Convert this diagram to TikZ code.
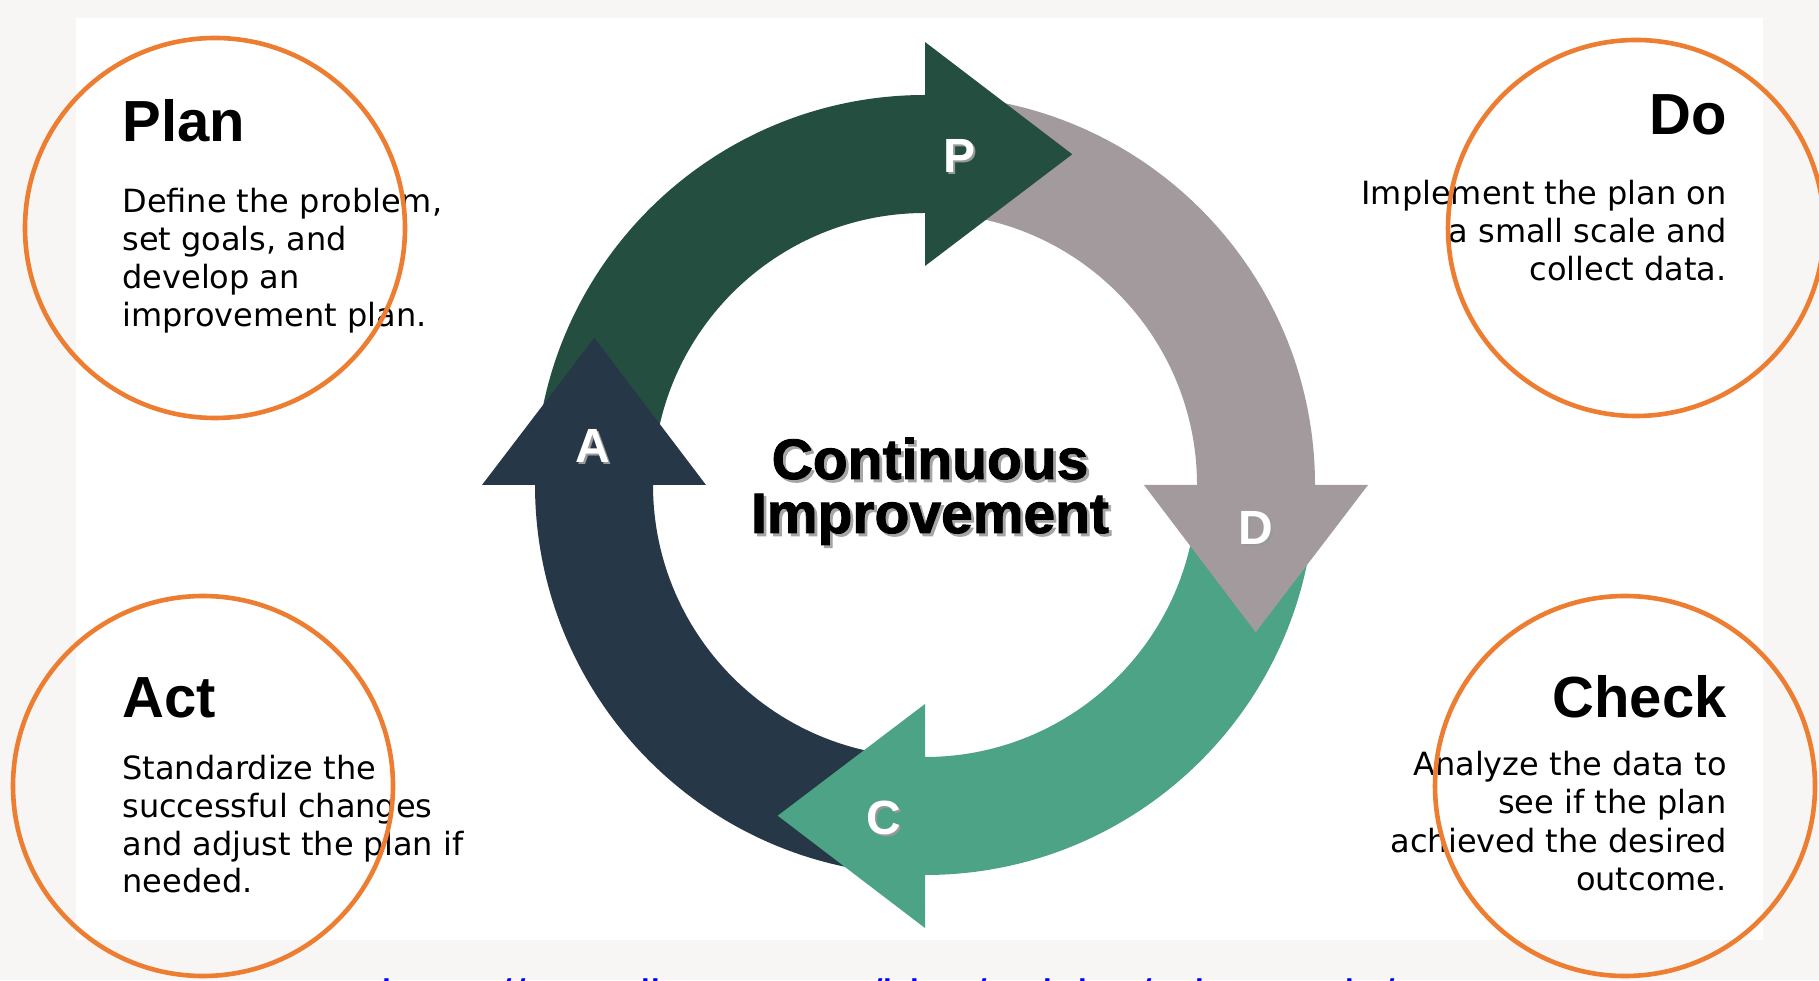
\documentclass[tikz,border=0pt]{standalone}
\usepackage{fontspec}
\setmainfont{DejaVu Sans}
\newfontfamily\headfont{Liberation Sans}
\newfontfamily\heavyfont[FakeBold=1.6]{Liberation Sans Bold}
\usetikzlibrary{calc}
\definecolor{bgcol}{RGB}{247,246,244}
\definecolor{pgreen}{RGB}{36,79,64}
\definecolor{dgrey}{RGB}{162,154,156}
\definecolor{cteal}{RGB}{76,163,133}
\definecolor{anavy}{RGB}{38,56,71}
\definecolor{ring}{RGB}{237,125,49}
\newcommand\shadowtext[3][1.2pt]{\makebox[0pt][l]{\hspace{#1}\raisebox{-#1}{\textcolor{#2}{#3}}}#3}
\tikzset{
  title/.style={inner sep=0, font=\headfont\bfseries\fontsize{29}{34}\selectfont},
  body/.style={inner sep=0, font=\fontsize{16}{19}\selectfont},
  letter/.style={inner sep=0, text=white, font=\headfont\bfseries\fontsize{24}{28}\selectfont},
  centertext/.style={inner sep=0, font=\heavyfont\fontsize{28.5}{34}\selectfont},
  orangering/.style={draw=ring, line width=2.3pt},
}
\begin{document}
\begin{tikzpicture}[x=0.5pt,y=0.5pt]
\useasboundingbox (0,0) rectangle (1819,980);
\fill[bgcol] (0,0) rectangle (1819,980);
\fill[white] (76,40) rectangle (1763,962);
\coordinate (o) at (925,495);

% ring bodies
\fill[pgreen] ($(o)+(178:390)$) arc[start angle=178,end angle=90,radius=390]
   -- ($(o)+(90:272)$) arc[start angle=90,end angle=178,radius=272] -- cycle;
\fill[dgrey] ($(o)+(88:390)$) arc[start angle=88,end angle=0,radius=390]
   -- ($(o)+(0:272)$) arc[start angle=0,end angle=88,radius=272] -- cycle;
\fill[cteal] ($(o)+(-2:390)$) arc[start angle=-2,end angle=-90,radius=390]
   -- ($(o)+(-90:272)$) arc[start angle=-90,end angle=-2,radius=272] -- cycle;
\fill[anavy] ($(o)+(-92:390)$) arc[start angle=-92,end angle=-180,radius=390]
   -- ($(o)+(-180:272)$) arc[start angle=-180,end angle=-92,radius=272] -- cycle;

% heads
\fill[pgreen] ($(o)+(90:443)$) -- ($(o)+(66:362)$) -- ($(o)+(90:219)$) -- cycle;
\fill[dgrey] ($(o)+(0:443)$) -- ($(o)+(-24:362)$) -- ($(o)+(0:219)$) -- cycle;
\fill[cteal] ($(o)+(-90:443)$) -- ($(o)+(-114:362)$) -- ($(o)+(-90:219)$) -- cycle;
\fill[anavy] ($(o)+(180:443)$) -- ($(o)+(156:362)$) -- ($(o)+(180:219)$) -- cycle;

% letters
\node[letter] (lp) at ($(o)+(84:330)$) {\shadowtext[1pt]{black!40}{P}};
\node[letter] (ld) at ($(o)+(-7.5:334)$) {\shadowtext[1pt]{black!40}{D}};
\node[letter] (lc) at ($(o)+(-97:336)$) {\shadowtext[1pt]{black!40}{C}};
\node[letter] (la) at ($(o)+(173.5:334)$) {\shadowtext[1pt]{black!40}{A}};

% centre text
\node[centertext, anchor=base] (cont) at (930,501) {\shadowtext[1.4pt]{black!35}{Continuous}};
\node[centertext, anchor=base] (impr) at (930,447) {\shadowtext[1.4pt]{black!35}{Improvement}};

% Plan
\node[title, anchor=base west] (plan) at (122,838) {Plan};
\node[body, anchor=base west] (plan1) at (122,767) {Define the problem,};
\node[body, anchor=base west] (plan2) at (122,729) {set goals, and};
\node[body, anchor=base west] (plan3) at (122,691) {develop an};
\node[body, anchor=base west] (plan4) at (122,653) {improvement plan.};

% Do
\node[title, anchor=base east] (do) at (1727,845) {Do};
\node[body, anchor=base east] (do1) at (1727,775) {Implement the plan on};
\node[body, anchor=base east] (do2) at (1727,737) {a small scale and};
\node[body, anchor=base east] (do3) at (1727,699) {collect data.};

% Act
\node[title, anchor=base west] (act) at (122,263) {Act};
\node[body, anchor=base west] (act1) at (122,200) {Standardize the};
\node[body, anchor=base west] (act2) at (122,163) {successful changes};
\node[body, anchor=base west] (act3) at (122,125) {and adjust the plan if};
\node[body, anchor=base west] (act4) at (122,88) {needed.};

% Check
\node[title, anchor=base east] (check) at (1727,263) {Check};
\node[body, anchor=base east] (check1) at (1727,205) {Analyze the data to};
\node[body, anchor=base east] (check2) at (1727,167) {see if the plan};
\node[body, anchor=base east] (check3) at (1727,128) {achieved the desired};
\node[body, anchor=base east] (check4) at (1727,90) {outcome.};

% orange circles
\draw[orangering] (215,752) circle[radius=190];
\draw[orangering] (1636,752) circle[radius=188];
\draw[orangering] (203,194) circle[radius=190];
\draw[orangering] (1625,194) circle[radius=190];

% cut-off link
\begin{scope}
\clip (0,0) rectangle (1819,980);
\node[inner sep=0, anchor=base west, text=blue, font=\headfont\fontsize{24}{28}\selectfont] (url) at (381,-33) {https://www.litmos.com/blog/articles/pdca-cycle/};
\end{scope}
\end{tikzpicture}
\end{document}
